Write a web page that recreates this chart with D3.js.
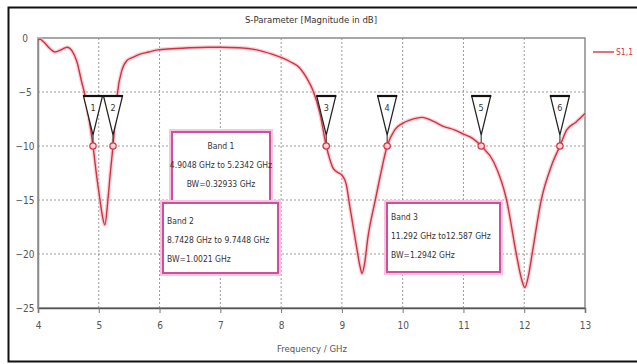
<!DOCTYPE html>
<html lang="en">
<head>
    <meta charset="UTF-8">
    <title>S-Parameter</title>
    <script src="https://d3js.org/d3.v7.min.js"></script>
    <style>
        body{
            margin: 0;
            background: white;
        }
        svg text{
            font-family: "DejaVu Sans", sans-serif;
            font-stretch: condensed;
            fill: #333;
        }
        .grid line{
            stroke: #9a9a9a;
            stroke-width: 1px;
            stroke-dasharray: 2,2;
        }
    </style>
</head>
<body>
<svg id="canvas" width="637" height="364"></svg>
<script>
    // S1,1 (GHz, dB)
    let freq = [4.0, 4.03, 4.1, 4.2, 4.28, 4.38, 4.48, 4.56, 4.64, 4.72, 4.76, 4.84, 4.905, 4.97, 5.02, 5.06, 5.10,
        5.15, 5.19, 5.234, 5.27, 5.31, 5.38, 5.46, 5.56, 5.68, 5.82, 5.97, 6.2, 6.5, 6.8, 7.0, 7.3, 7.6, 7.85, 8.0,
        8.15, 8.31, 8.42, 8.52, 8.64, 8.743, 8.8, 8.85, 8.92, 9.0, 9.07, 9.13, 9.24, 9.3, 9.33, 9.37, 9.43, 9.55,
        9.63, 9.745, 9.87, 10.0, 10.12, 10.32, 10.5, 10.68, 10.85, 11.0, 11.15, 11.292, 11.5, 11.71, 11.87, 11.95,
        12.01, 12.07, 12.13, 12.28, 12.45, 12.587, 12.7, 12.85, 13.0]
    let s11 = [-0.2, -0.1, -0.4, -1.0, -1.3, -1.1, -0.85, -1.2, -2.2, -4.1, -5.0, -7.5, -10, -13, -15, -16.5, -17.3,
        -15, -12.5, -10, -7.5, -5, -3.0, -2.1, -1.8, -1.5, -1.3, -1.1, -1.0, -0.9, -0.85, -0.85, -0.9, -1.1, -1.5, -1.8,
        -2.2, -2.8, -3.7, -4.8, -7.0, -10, -11.2, -12, -12.4, -12.7, -13.5, -15.6, -19.3, -21.2, -21.8, -21, -18.4, -15,
        -12.8, -10, -8.5, -7.9, -7.6, -7.35, -7.7, -8.2, -8.5, -8.9, -9.3, -10, -11.5, -15, -20, -22.2,
        -23.1, -22, -20, -15, -11.8, -10, -8.5, -7.8, -7.0]

    let markerFreq = [4.9048, 5.2342, 8.7428, 9.7448, 11.292, 12.587]
    let markerDb = [-10, -10, -10, -10, -10, -10]
    let markerLabels = ["1", "2", "3", "4", "5", "6"]

    let xTicks = [4, 5, 6, 7, 8, 9, 10, 11, 12, 13]
    let yTicks = [0, -5, -10, -15, -20, -25]

    let band1 = ["Band 1", "4.9048 GHz to 5.2342 GHz", "BW=0.32933 GHz"]
    let band2 = ["Band 2", "8.7428 GHz to 9.7448 GHz", "BW=1.0021 GHz"]
    let band3 = ["Band 3", "11.292 GHz to12.587 GHz", "BW=1.2942 GHz"]

    let svg = d3.select('svg')
    let plotLeft = 38, plotRight = 585, plotTop = 38, plotBottom = 308

    let x = d3.scaleLinear().domain([4, 13]).range([plotLeft, plotRight])
    let y = d3.scaleLinear().domain([-25, 0]).range([plotBottom, plotTop])

    // outer frame
    svg.append('rect')
        .attr('x', 8.5).attr('y', 7.5)
        .attr('width', 640).attr('height', 354)
        .attr('fill', 'white').attr('stroke', '#111').attr('stroke-width', 2)

    svg.append('text')
        .attr('x', 311).attr('y', 23)
        .attr('text-anchor', 'middle')
        .style('font-size', '9.5px')
        .text('S-Parameter [Magnitude in dB]')

    // grid
    let grid = svg.append('g').attr('class', 'grid')
    grid.selectAll('line.v')
        .data(xTicks.slice(1, -1))
        .join('line')
        .attr('class', 'v')
        .attr('x1', d => x(d)).attr('x2', d => x(d))
        .attr('y1', plotTop).attr('y2', plotBottom)
    grid.selectAll('line.h')
        .data(yTicks.slice(1, -1))
        .join('line')
        .attr('class', 'h')
        .attr('x1', plotLeft).attr('x2', plotRight)
        .attr('y1', d => y(d)).attr('y2', d => y(d))

    // plot border
    svg.append('rect')
        .attr('x', plotLeft).attr('y', plotTop)
        .attr('width', plotRight - plotLeft).attr('height', plotBottom - plotTop)
        .attr('fill', 'none').attr('stroke', '#8a8a8a').attr('stroke-width', 1.5)

    let xAxis = svg.append('g')
        .attr('transform', 'translate(0,' + plotBottom + ')')
        .call(d3.axisBottom(x).tickValues(xTicks).tickSize(5).tickPadding(9).tickFormat(d3.format('d')))
    xAxis.select('.domain').attr('stroke', '#555').attr('stroke-width', 1.5)
    xAxis.selectAll('line').attr('stroke', '#777')
    xAxis.selectAll('text').style('font-size', '10px').style('fill', '#555')

    let yAxis = svg.append('g')
        .attr('transform', 'translate(' + plotLeft + ',0)')
        .call(d3.axisLeft(y).tickValues(yTicks).tickSize(0).tickPadding(8).tickFormat(d3.format('d')))
    yAxis.select('.domain').attr('stroke', '#8a8a8a').attr('stroke-width', 1.5)
    yAxis.selectAll('text').style('font-size', '10px').style('fill', '#555').attr('text-anchor', 'middle').attr('x', -13)

    svg.append('text')
        .attr('x', 312).attr('y', 352)
        .attr('text-anchor', 'middle')
        .style('font-size', '9.5px')
        .style('fill', '#555')
        .text('Frequency / GHz')

    // curve
    let points = freq.map((f, i) => [f, s11[i]])
    let line = d3.line()
        .x(d => x(d[0]))
        .y(d => y(d[1]))
        .curve(d3.curveMonotoneX)
    let plot = svg.append('g')
    plot.append('path')
        .attr('d', line(points))
        .attr('fill', 'none')
        .attr('stroke', '#f7b3bd')
        .attr('stroke-width', 4)
        .attr('opacity', 0.6)
    plot.append('path')
        .attr('d', line(points))
        .attr('fill', 'none')
        .attr('stroke', '#cf3342')
        .attr('stroke-width', 1.4)

    // markers
    let markers = svg.append('g')
        .selectAll('g')
        .data(markerFreq.map((f, i) => ({f: f, db: markerDb[i], label: markerLabels[i]})))
        .join('g')
        .attr('transform', d => 'translate(' + x(d.f) + ',' + y(d.db) + ')')
    markers.append('path')
        .attr('d', 'M-9.5,-50 L9.5,-50 L0,-11 Z')
        .attr('fill', 'white')
        .attr('stroke', '#222')
        .attr('stroke-width', 1.2)
    markers.append('line')
        .attr('x1', -10).attr('x2', 10)
        .attr('y1', -50).attr('y2', -50)
        .attr('stroke', '#111').attr('stroke-width', 2.2)
    markers.append('line')
        .attr('x1', 0).attr('x2', 0)
        .attr('y1', -11).attr('y2', -3)
        .attr('stroke', '#444').attr('stroke-width', 1.2)
    markers.append('text')
        .attr('x', 0).attr('y', -35)
        .attr('text-anchor', 'middle')
        .style('font-size', '9px')
        .text(d => d.label)
    markers.append('circle')
        .attr('r', 3.2)
        .attr('fill', '#fbd3d8')
        .attr('stroke', '#d8343f')
        .attr('stroke-width', 1.2)

    // band boxes
    function bandBox(bx, by, bw, bh, lines, anchor, tx, ty) {
        let g = svg.append('g')
        g.append('rect')
            .attr('x', bx - 1.5).attr('y', by - 1.5)
            .attr('width', bw + 3).attr('height', bh + 3)
            .attr('fill', 'none').attr('stroke', '#f6c6e0').attr('stroke-width', 3)
        g.append('rect')
            .attr('x', bx).attr('y', by)
            .attr('width', bw).attr('height', bh)
            .attr('fill', 'white').attr('stroke', '#cf4f9f').attr('stroke-width', 2)
        g.selectAll('text')
            .data(lines)
            .join('text')
            .attr('x', tx)
            .attr('y', (d, i) => ty + i * 19)
            .attr('text-anchor', anchor)
            .style('font-size', '8.5px')
            .text(d => d)
    }
    bandBox(172, 132, 98, 70, band1, 'middle', 221, 149)
    bandBox(163, 203, 115, 70, band2, 'start', 167, 224)
    bandBox(387, 203, 113, 69, band3, 'start', 391, 220)

    // legend
    svg.append('line')
        .attr('x1', 593).attr('x2', 614)
        .attr('y1', 52).attr('y2', 52)
        .attr('stroke', '#d8343f').attr('stroke-width', 1.4)
    svg.append('text')
        .attr('x', 616).attr('y', 55)
        .style('font-size', '8.5px')
        .style('fill', '#d8343f')
        .text('S1,1')
</script>
</body>
</html>
